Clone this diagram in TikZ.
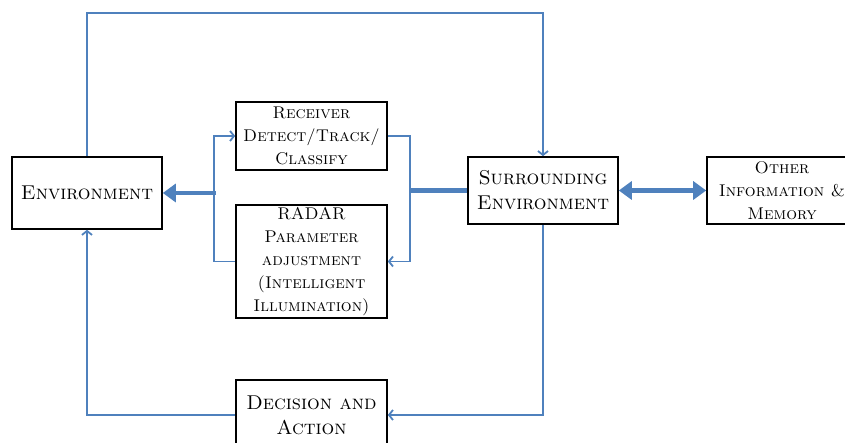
\documentclass[tikz,border=0pt]{standalone}
\usepackage{xcolor}
\usetikzlibrary{arrows.meta}
\definecolor{linkblue}{RGB}{79,129,189}
\tikzset{
  block/.style={draw=black, line width=1.6pt, fill=white, align=center, inner sep=2pt,
    font=\fontsize{17}{23}\selectfont\scshape},
  bigblock/.style={block, font=\fontsize{20}{25}\selectfont\scshape},
  thinlink/.style={draw=linkblue, line width=1.8pt, -{Straight Barb[length=4pt,width=10pt]}},
  thicklink/.style={draw=linkblue, line width=4.5pt},
}

\begin{document}
\begin{tikzpicture}[x=1pt, y=1pt]
	\useasboundingbox (0,0) rectangle (845,443);
	\node[bigblock, minimum width=150, minimum height=72] (env) at (87,250) {Environment};
	\node[block, minimum width=151, minimum height=68] (recv) at (311.5,307) {Receiver\\Detect/Track/\\Classify};
	\node[block, minimum width=151, minimum height=113] (radar) at (311.5,181.5) {RADAR\\Parameter\\adjustment\\(Intelligent\\Illumination)};
	\node[bigblock, minimum width=150, minimum height=67] (surr) at (543,252.5) {Surrounding\\Environment};
	\node[block, minimum width=150, minimum height=67] (other) at (782,252.5) {Other\\Information \&\\Memory};
	\node[bigblock, minimum width=151, minimum height=70] (dec) at (311.5,28) {Decision and\\Action};
	\coordinate (top) at (315,430);
	\coordinate (lbus) at (214,250);
	\coordinate (rbus) at (410,252.5);
	\draw[thinlink] (env.north) |- (top) -| (surr.north);
	\draw[thinlink] (dec.west) -| (env.south);
	\draw[thinlink] (surr.south) |- (dec.east);
	\draw[thinlink] (radar.west) -| (lbus) |- (recv.west);
	\draw[thinlink] (recv.east) -| (rbus) |- (radar.east);
	\draw[thicklink, -{Triangle[length=13pt,width=18pt]}] ([xshift=2pt]lbus) -- (env.east);
	\draw[thicklink] (surr.west) -- ([xshift=-1pt]rbus);
	\draw[thicklink, {Triangle[length=13pt,width=18pt]}-{Triangle[length=13pt,width=18pt]}] (surr.east) -- (other.west);
\end{tikzpicture}
\end{document}
